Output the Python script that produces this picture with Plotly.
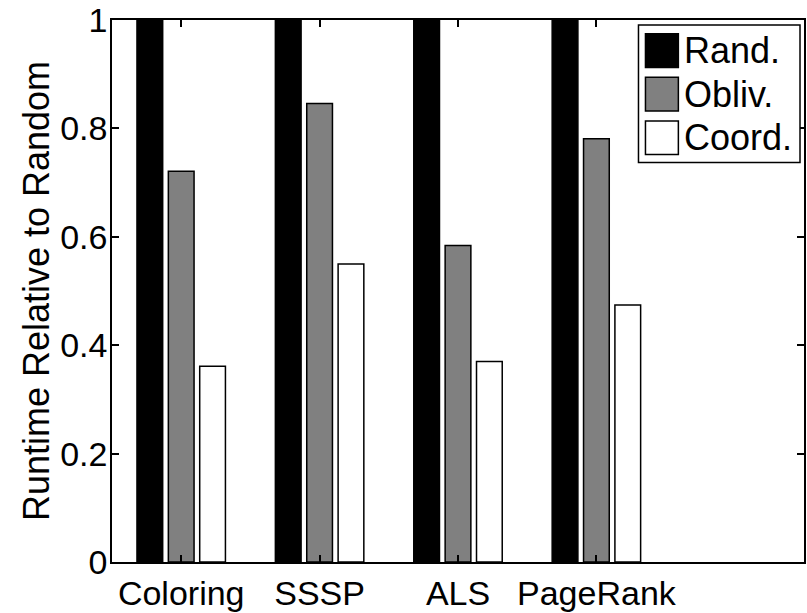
import plotly.graph_objects as go

categories = ["Coloring", "SSSP", "ALS", "PageRank"]
cat_pos = [1, 2, 3, 4]
series_names = ["Rand.", "Obliv.", "Coord."]
rand_vals = [1.0, 1.0, 1.0, 1.0]
obliv_vals = [0.721, 0.846, 0.584, 0.781]
coord_vals = [0.361, 0.550, 0.370, 0.474]
y_ticks = [0, 0.2, 0.4, 0.6, 0.8, 1]
y_ticktext = ["0", "0.2", "0.4", "0.6", "0.8", "1"]

colors = ["#000000", "#808080", "#ffffff"]
FONT = "Liberation Sans, Arial, sans-serif"

W, H = 807, 613
L, R, T, B = 112, 1, 19, 46
PW, PH = W - L - R, H - T - B

fig = go.Figure()
for name, vals, col in zip(series_names, [rand_vals, obliv_vals, coord_vals], colors):
    fig.add_trace(go.Bar(
        x=cat_pos, y=vals, name=name,
        marker=dict(color=col, line=dict(color="black", width=1.5)),
        showlegend=False,
    ))

def px2paper(px, py):
    return (px - L) / PW, (H - B - py) / PH

shapes = []
annotations = []
# legend box
x0, y0 = px2paper(640, 24)
x1, y1 = px2paper(802, 163)
shapes.append(dict(type="rect", xref="paper", yref="paper", x0=x0, y0=y1, x1=x1, y1=y0,
                   line=dict(color="black", width=1.5), fillcolor="white", layer="above"))
centers = [50, 94, 138]
for name, col, cy in zip(series_names, colors, centers):
    a0, b0 = px2paper(647, cy - 17)
    a1, b1 = px2paper(680, cy + 17)
    shapes.append(dict(type="rect", xref="paper", yref="paper", x0=a0, y0=b1, x1=a1, y1=b0,
                       line=dict(color="black", width=1.5), fillcolor=col, layer="above"))
    tx, ty = px2paper(684, cy)
    annotations.append(dict(xref="paper", yref="paper", x=tx, y=ty, text=name,
                            showarrow=False, xanchor="left", yanchor="middle",
                            font=dict(family=FONT, size=36, color="black")))

fig.update_layout(
    width=W, height=H,
    margin=dict(l=L, r=R, t=T, b=B),
    paper_bgcolor="white", plot_bgcolor="white",
    barmode="group", bargap=0.32, bargroupgap=0.18,
    font=dict(family=FONT, size=34, color="black"),
    shapes=shapes, annotations=annotations,
    xaxis=dict(range=[0.5, 5.5], tickmode="array", tickvals=cat_pos, ticktext=categories,
               ticks="inside", ticklen=7, tickwidth=1.5, tickcolor="black",
               showline=True, linecolor="black", linewidth=1.5, mirror="allticks",
               showgrid=False, zeroline=False, tickfont=dict(size=34),
               ticklabeloverflow="allow"),
    yaxis=dict(range=[0, 1], tickmode="array", tickvals=y_ticks, ticktext=y_ticktext,
               ticks="inside", ticklen=7, tickwidth=1.5, tickcolor="black",
               showline=True, linecolor="black", linewidth=1.5, mirror="allticks",
               showgrid=False, zeroline=False, tickfont=dict(size=34),
               ticklabeloverflow="allow", ticklabelstandoff=-4,
               title=dict(text="Runtime Relative to Random", font=dict(size=36), standoff=0)),
)

fig.write_html("out.html")
